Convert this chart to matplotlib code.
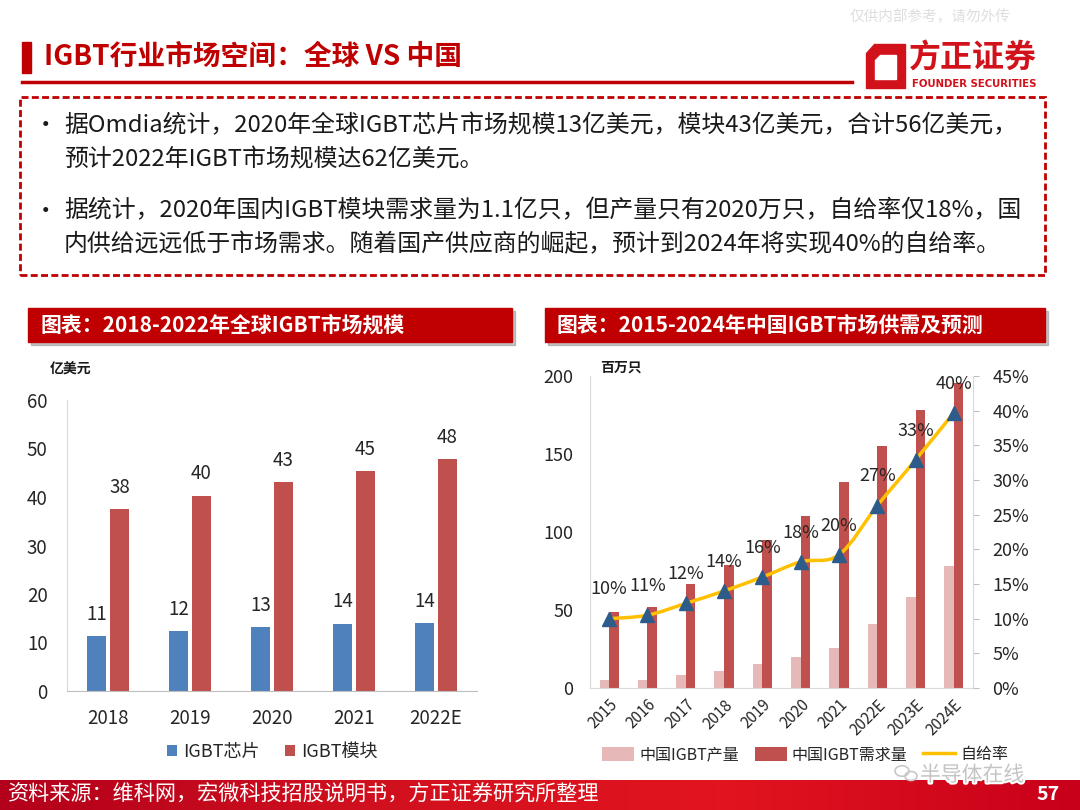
import numpy as np
import matplotlib.pyplot as plt
from matplotlib.patches import Rectangle, Polygon, PathPatch
from matplotlib.path import Path
from matplotlib.lines import Line2D
from matplotlib.colors import LinearSegmentedColormap
import matplotlib.patheffects as pe

plt.rcParams['font.family'] = ['Noto Sans CJK SC', 'DejaVu Sans']

# ---- data: global IGBT market (100M USD)
years_global = ['2018', '2019', '2020', '2021', '2022E']
chip = [11.3, 12.3, 13.1, 13.9, 14.1]
module = [37.6, 40.3, 43.0, 45.4, 47.8]
chip_labels = ['11', '12', '13', '14', '14']
module_labels = ['38', '40', '43', '45', '48']

# ---- data: China IGBT supply / demand (million units)
years_cn = ['2015', '2016', '2017', '2018', '2019', '2020', '2021',
            '2022E', '2023E', '2024E']
output_cn = [4.9, 5.3, 8.1, 10.9, 15.2, 20.1, 25.7, 40.9, 58.6, 78.1]
demand_cn = [48.8, 52.0, 66.5, 78.7, 94.8, 110.2, 131.8, 155.3, 178.2, 195.3]
self_rate = [0.100, 0.105, 0.122, 0.140, 0.160, 0.182, 0.192, 0.263, 0.329, 0.397]
rate_labels = ['10%', '11%', '12%', '14%', '16%', '18%', '20%', '27%', '33%', '40%']

RED = '#C00000'
W, H = 1080, 810


def fx(x):
    return x / W


def fy(y):
    return 1 - y / H


def box(x0, y0, x1, y1):
    return [fx(x0), fy(y1), (x1 - x0) / W, (y1 - y0) / H]


def smooth_path(xs, ys):
    # catmull-rom through the points, as the "smoothed line" option does
    pts = np.column_stack([xs, ys])
    n = len(pts)
    verts, codes = [pts[0]], [Path.MOVETO]
    for i in range(n - 1):
        p0 = pts[i - 1] if i > 0 else pts[i]
        p3 = pts[i + 2] if i + 2 < n else pts[i + 1]
        p1, p2 = pts[i], pts[i + 1]
        verts += [p1 + (p2 - p0) / 6, p2 - (p3 - p1) / 6, p2]
        codes += [Path.CURVE4] * 3
    return Path(verts, codes)


fig = plt.figure(figsize=(10.8, 8.1), dpi=100)

# ---- header
fig.text(fx(850), fy(17), '仅供内部参考，请勿外传', fontsize=10.5, color='#dedede', va='center')
fig.add_artist(Rectangle((fx(22), fy(73)), 9 / W, 31 / H, color=RED, transform=fig.transFigure))
fig.text(fx(44), fy(57), 'IGBT行业市场空间：全球 VS 中国', fontsize=20, fontweight='bold',
         color=RED, va='center')
fig.add_artist(Line2D([fx(22), fx(852)], [fy(82), fy(82)], color=RED, lw=2.5,
                      transform=fig.transFigure))

# logo
logo_red = '#D2121B'
fig.add_artist(Polygon([(fx(874), fy(44)), (fx(905), fy(44)), (fx(905), fy(88)),
                        (fx(866), fy(88)), (fx(866), fy(53))],
                       closed=True, color=logo_red, transform=fig.transFigure))
fig.add_artist(Polygon([(fx(880), fy(55)), (fx(896), fy(55)), (fx(896), fy(79)),
                        (fx(875), fy(79)), (fx(875), fy(60))],
                       closed=True, color='white', transform=fig.transFigure))
fig.text(fx(909), fy(59), '方正证券', fontsize=23, fontweight='bold', color=logo_red, va='center')
fig.text(fx(912), fy(84), 'FOUNDER SECURITIES', fontsize=7.3, fontweight='bold',
         color=logo_red, va='center', family=['DejaVu Sans'])

# ---- dashed text box
fig.add_artist(Rectangle((fx(20), fy(275)), 1025 / W, 178 / H, fill=False, edgecolor=RED,
                         lw=2, linestyle=(0, (2.5, 1.2)), transform=fig.transFigure))
lines = [
    (126, True, '据Omdia统计，2020年全球IGBT芯片市场规模13亿美元，模块43亿美元，合计56亿美元，'),
    (160, False, '预计2022年IGBT市场规模达62亿美元。'),
    (211, True, '据统计，2020年国内IGBT模块需求量为1.1亿只，但产量只有2020万只，自给率仅18%，国'),
    (245, False, '内供给远远低于市场需求。随着国产供应商的崛起，预计到2024年将实现40%的自给率。'),
]
for y, bullet, s in lines:
    if bullet:
        fig.text(fx(34), fy(y), '•', fontsize=17, color='#1a1a1a', va='center')
    fig.text(fx(64), fy(y), s, fontsize=17.2, color='#1a1a1a', va='center')

# ---- chart title bars
for x0, x1, s in [(28, 512, '图表：2018-2022年全球IGBT市场规模'),
                  (545, 1045, '图表：2015-2024年中国IGBT市场供需及预测')]:
    fig.add_artist(Rectangle((fx(x0 + 3), fy(345)), (x1 - x0) / W, 34 / H, color='#8c8c8c',
                             alpha=0.5, transform=fig.transFigure))
    fig.add_artist(Rectangle((fx(x0), fy(342)), (x1 - x0) / W, 34 / H, color=RED,
                             transform=fig.transFigure))
    fig.text(fx(x0 + 12), fy(325), s, fontsize=15, fontweight='bold', color='white', va='center')

# ---- left chart
ax1 = fig.add_axes(box(67, 400, 477, 691))
x = np.arange(len(years_global))
ax1.bar(x - 0.14, chip, 0.23, color='#4F81BD', label='IGBT芯片')
ax1.bar(x + 0.14, module, 0.23, color='#C0504D', label='IGBT模块')
for xi, v, s in zip(x, chip, chip_labels):
    ax1.annotate(s, (xi - 0.14, v), xytext=(0, 8), textcoords='offset points',
                 ha='center', va='bottom', fontsize=13.5, color='#262626')
for xi, v, s in zip(x, module, module_labels):
    ax1.annotate(s, (xi + 0.14, v), xytext=(0, 8), textcoords='offset points',
                 ha='center', va='bottom', fontsize=13.5, color='#262626')
ax1.set_xlim(-0.5, 4.5)
ax1.set_ylim(0, 60)
ax1.set_yticks(range(0, 61, 10))
ax1.set_xticks(x)
ax1.set_xticklabels(years_global)
ax1.spines[['top', 'right']].set_visible(False)
ax1.spines['left'].set_color('#D9D9D9')
ax1.spines['bottom'].set_color('#BFBFBF')
ax1.tick_params(axis='y', length=0, labelsize=13.5, labelcolor='#262626', pad=14)
ax1.tick_params(axis='x', length=0, labelsize=13.5, labelcolor='#262626', pad=12)
ax1.set_facecolor('none')
fig.text(fx(50), fy(370), '亿美元', fontsize=10, fontweight='bold', color='#1a1a1a', va='center')
fig.legend(*ax1.get_legend_handles_labels(), loc='center', bbox_to_anchor=(fx(272), fy(752)),
           ncol=2, frameon=False, fontsize=13, handlelength=0.6, handleheight=0.6,
           handletextpad=0.3, columnspacing=1.4, labelcolor='#262626')

# ---- right chart
ax2 = fig.add_axes(box(590, 376, 973, 688))
xc = np.arange(len(years_cn))
ax2.bar(xc - 0.125, output_cn, 0.25, color='#E6B9B8', label='中国IGBT产量')
ax2.bar(xc + 0.125, demand_cn, 0.25, color='#C0504D', label='中国IGBT需求量')
ax2.set_xlim(-0.5, len(years_cn) - 0.5)
ax2.set_ylim(0, 200)
ax2.set_yticks(range(0, 201, 50))
ax2.set_xticks(xc)
ax2.set_xticklabels(years_cn, rotation=45, ha='right', rotation_mode='anchor')
ax2.spines[['top', 'right']].set_visible(False)
ax2.spines['left'].set_color('#D9D9D9')
ax2.spines['bottom'].set_color('#D9D9D9')
ax2.tick_params(axis='y', length=0, labelsize=13, labelcolor='#262626', pad=12)
ax2.tick_params(axis='x', length=0, labelsize=11, labelcolor='#262626', pad=6)

ax3 = ax2.twinx()
ax3.add_patch(PathPatch(smooth_path(xc, self_rate), fill=False, edgecolor='#FFC000',
                        lw=2.5, zorder=3))
ax3.plot([], [], color='#FFC000', lw=2.5, label='自给率')
ax3.plot(xc, self_rate, linestyle='none', marker='^', ms=10, color='#2E5C8A', zorder=4)
for xi, v, s in zip(xc, self_rate, rate_labels):
    ax3.annotate(s, (xi, v), xytext=(0, 21), textcoords='offset points',
                 ha='center', va='center', fontsize=13, color='#262626')
ax3.set_ylim(0, 0.45)
ax3.set_yticks(np.arange(0, 0.451, 0.05))
ax3.set_yticklabels([f'{t:.0f}%' for t in np.arange(0, 46, 5)])
ax3.spines[['top', 'left', 'bottom']].set_visible(False)
ax3.spines['right'].set_color('#D9D9D9')
ax3.tick_params(axis='y', length=4, color='#BFBFBF', labelsize=13, labelcolor='#262626', pad=10)
fig.text(fx(600), fy(368), '百万只', fontsize=10, fontweight='bold', color='#1a1a1a', va='center')

h2, l2 = ax2.get_legend_handles_labels()
h3, l3 = ax3.get_legend_handles_labels()
fig.legend(h2 + h3, l2 + l3, loc='center left', bbox_to_anchor=(fx(588), fy(755)),
           ncol=3, frameon=False, fontsize=11.5, handlelength=2.0, handleheight=0.9,
           handletextpad=0.3, columnspacing=1.0, labelcolor='#262626')

# watermark over the legend
fig.add_artist(plt.Circle((fx(902), fy(771)), 7 / W, fill=False, ec='#c8c8c8', lw=1.2,
                          transform=fig.transFigure))
fig.add_artist(plt.Circle((fx(911), fy(776)), 6 / W, fill=False, ec='#c8c8c8', lw=1.2,
                          transform=fig.transFigure))
fig.text(fx(920), fy(775), '半导体在线', fontsize=15, color='#c4c4c4', va='center',
         path_effects=[pe.withStroke(linewidth=3, foreground='white')], zorder=5)

# ---- footer band
band = fig.add_axes(box(0, 780, 1080, 810))
cmap = LinearSegmentedColormap.from_list('band', ['#B3001B', '#D0101E', '#E2141F', '#C8001A'])
band.imshow(np.linspace(0, 1, 256).reshape(1, -1), aspect='auto', cmap=cmap,
            extent=[0, 1, 0, 1])
band.set_axis_off()
fig.text(fx(8), fy(795), '资料来源：维科网，宏微科技招股说明书，方正证券研究所整理',
         fontsize=15.2, color='white', va='center')
fig.text(fx(1060), fy(795), '57', fontsize=14, fontweight='bold', color='white',
         va='center', ha='right')

fig.savefig('out.png', dpi=100)
